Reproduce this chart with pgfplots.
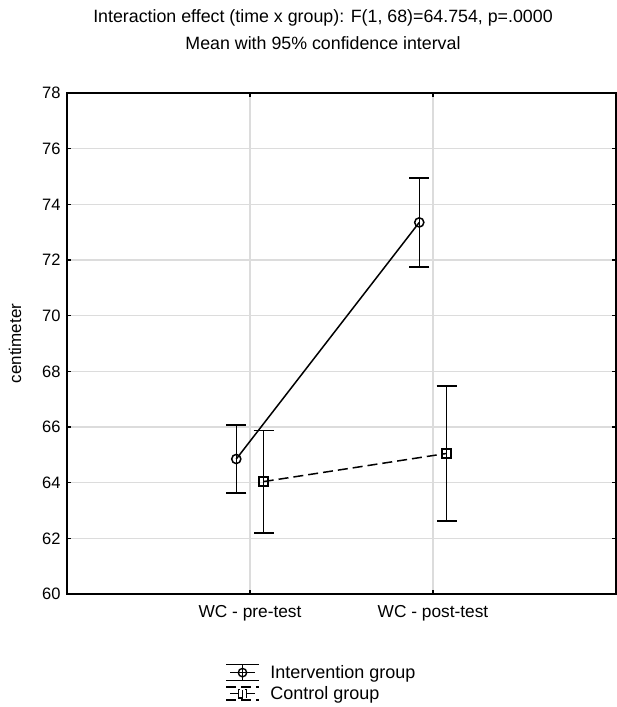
\documentclass[border=0pt]{standalone}
\usepackage{fontspec}
\setmainfont{Liberation Sans}
\usepackage{pgfplots}
\pgfplotsset{compat=1.18}
\definecolor{gridgray}{RGB}{220,220,220}
\begin{document}
\begin{tikzpicture}[x=1pt,y=1pt]
\useasboundingbox (0,0) rectangle (617,707);
\node[font=\fontsize{17.8}{19}\selectfont] at (323,689) {Interaction effect (time x group): F(1, 68)=64.754, p=.0000};
\node[font=\fontsize{17.8}{19}\selectfont] at (323,664) {Mean with 95\% confidence interval};
\begin{axis}[
  at={(67pt,113pt)}, anchor=south west,
  scale only axis, width=549pt, height=501pt,
  xmin=0, xmax=3, ymin=60, ymax=78,
  xtick={1,2}, xticklabels={WC - pre-test, WC - post-test},
  ytick={60,62,...,78},
  tick pos=both, tick align=inside, major tick length=4pt,
  tick style={black, line width=1.4pt},
  grid=major, major grid style={gridgray, line width=1.5pt},
  axis line style={black, line width=1.7pt},
  /pgf/number format/assume math mode=true,
  ticklabel style={font=\fontsize{16.5}{18}\selectfont},
  xticklabel style={font=\fontsize{17.3}{19}\selectfont, yshift=-8pt},
  yticklabel style={xshift=-3pt},
  ylabel={centimeter},
  ylabel style={font=\fontsize{17}{19}\selectfont, at={(axis description cs:-0.0947,0.5)}, anchor=center, rotate=0},
  legend style={at={(axis description cs:0.288,-0.139)}, anchor=north west, draw=none, fill=none,
    font=\fontsize{18}{19}\selectfont, row sep=3.5pt, inner sep=0pt,
    nodes={inner sep=1.5pt}},
  legend cell align=left,
  clip=false,
]
\addplot[black, line width=1.5pt, mark=o, mark size=4.6pt, mark options={solid, fill=white, line width=1.5pt},
  legend image code/.code={
    \path (42pt,0pt);
    \draw[line width=1.4pt] (16.5pt,-8pt) -- (16.5pt,8pt);
    \draw[line width=1.4pt] (0pt,8pt) -- (33pt,8pt);
    \draw[line width=1.4pt] (0pt,-8pt) -- (33pt,-8pt);
    \draw[line width=1.4pt] (4pt,0pt) -- (29pt,0pt);
    \draw[line width=1.4pt] (16.5pt,0pt) circle (4.2pt);
  },
  error bars/.cd, y dir=both, y explicit,
  error bar style={line width=1.5pt, solid},
  error mark options={rotate=90, mark size=10pt, line width=1.5pt}]
  coordinates {
    (0.925,64.85) +- (0,1.23)
    (1.925,73.35) +- (0,1.6)
  };
\addlegendentry{Intervention group}
\addplot[black, line width=1.5pt, dash pattern=on 10pt off 5pt, mark=square, mark size=4.5pt, mark options={solid, fill=white, line width=1.5pt},
  legend image code/.code={
    \path (42pt,0pt);
    \draw[line width=1.4pt] (16.5pt,-6.5pt) -- (16.5pt,6.5pt);
    \draw[line width=1.4pt] (0pt,6.5pt) -- (33pt,6.5pt);
    \draw[line width=1.4pt] (0pt,-6.5pt) -- (33pt,-6.5pt);
    \draw[line width=1.4pt] (4pt,0pt) -- (29pt,0pt);
    \draw[line width=1.4pt, fill=white] (16.5pt,0pt) ++(-4.2pt,-4.2pt) rectangle ++(8.4pt,8.4pt);
    \draw[line width=1.4pt] (16.5pt,-4pt) -- (16.5pt,4pt);
  },
  error bars/.cd, y dir=both, y explicit,
  error bar style={line width=1.5pt, solid},
  error mark options={rotate=90, mark size=10pt, line width=1.5pt}]
  coordinates {
    (1.075,64.04) +- (0,1.84)
    (2.075,65.05) +- (0,2.43)
  };
\addlegendentry{Control group}
\end{axis}
\end{tikzpicture}
\end{document}
